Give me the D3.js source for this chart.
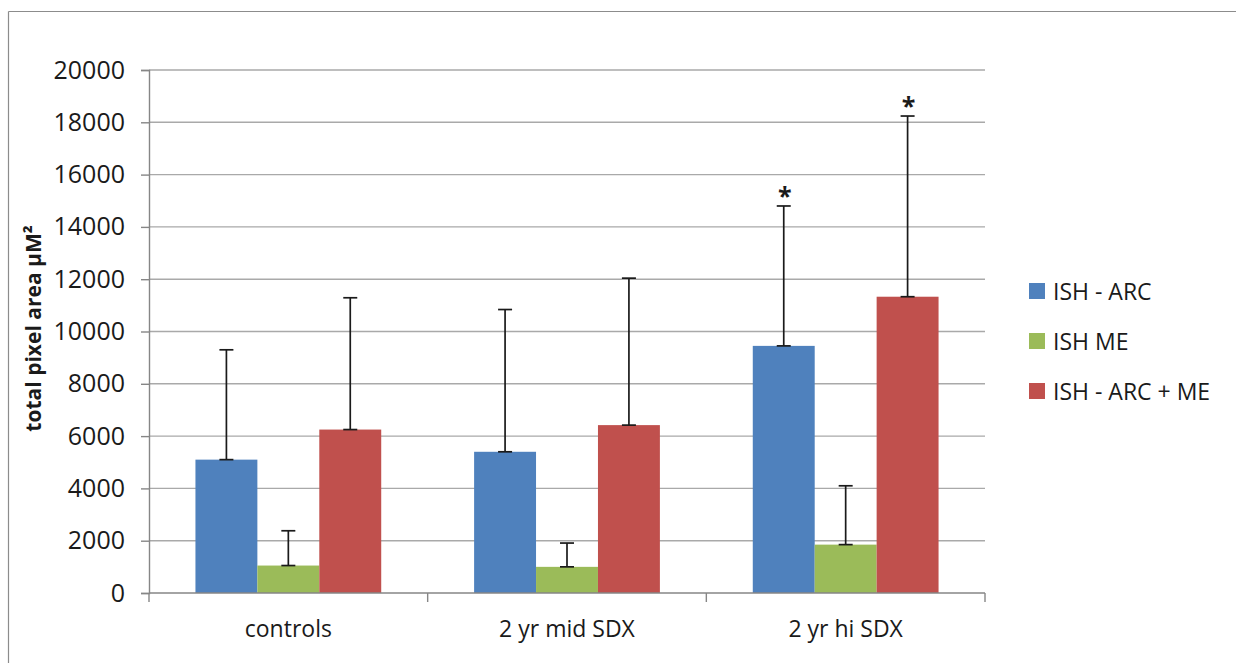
<!DOCTYPE html>
<html>
<head>
<meta charset="utf-8">
<script src="https://cdn.jsdelivr.net/npm/d3@7"></script>
<style>
  html, body { margin: 0; padding: 0; background: #fff; overflow: hidden; }
  svg { display: block; }
  text { font-family: "Open Sans", "Noto Sans", sans-serif; fill: #1a1a1a; }
</style>
</head>
<body>
<svg id="chart" width="1236" height="663"></svg>
<script>
// ---- data ----
const categories = ["controls", "2 yr mid SDX", "2 yr hi SDX"];
const seriesNames = ["ISH - ARC", "ISH ME", "ISH - ARC + ME"];
const seriesColors = ["#4F81BD", "#9BBB59", "#C0504D"];
const arcValues    = [5100, 5400, 9450];
const meValues     = [1050, 1000, 1850];
const arcMeValues  = [6250, 6420, 11330];
const arcErrTop    = [9300, 10840, 14800];
const meErrTop     = [2380, 1910, 4100];
const arcMeErrTop  = [11290, 12040, 18240];
const arcSignif    = [false, false, true];
const meSignif     = [false, false, false];
const arcMeSignif  = [false, false, true];
const yTicks = [0, 2000, 4000, 6000, 8000, 10000, 12000, 14000, 16000, 18000, 20000];
const yLabel = "total pixel area µM²";

const values = [arcValues, meValues, arcMeValues];
const errTops = [arcErrTop, meErrTop, arcMeErrTop];
const signif = [arcSignif, meSignif, arcMeSignif];

// ---- layout ----
const svg = d3.select("#chart");
const plot = { left: 149, right: 985, top: 70, bottom: 593 };

// outer frame (only top and left edges visible)
svg.append("line").attr("x1", 8.5).attr("x2", 1236).attr("y1", 11.5).attr("y2", 11.5)
  .attr("stroke", "#8c8c8c").attr("stroke-width", 1.2);
svg.append("line").attr("x1", 8.5).attr("x2", 8.5).attr("y1", 11.5).attr("y2", 663)
  .attr("stroke", "#8c8c8c").attr("stroke-width", 1.2);

const x0 = d3.scaleBand().domain(categories).range([plot.left, plot.right]).paddingInner(0).paddingOuter(0);
const groupInner = d3.scaleBand().domain(d3.range(seriesNames.length))
  .range([0, x0.bandwidth()]).paddingOuter(0.75).paddingInner(0);
const y = d3.scaleLinear().domain([0, 20000]).range([plot.bottom, plot.top]);

// gridlines
svg.append("g").selectAll("line").data(yTicks.filter(t => t > 0)).join("line")
  .attr("x1", plot.left).attr("x2", plot.right)
  .attr("y1", d => y(d)).attr("y2", d => y(d))
  .attr("stroke", "#a9a9a9").attr("stroke-width", 1.4);

// y axis
const yAxis = d3.axisLeft(y).tickValues(yTicks).tickSize(8).tickPadding(16).tickFormat(d3.format("d"));
const gy = svg.append("g").attr("transform", `translate(${plot.left},0)`).call(yAxis);
gy.select(".domain").attr("stroke", "#868686").attr("stroke-width", 1.4);
gy.selectAll(".tick line").attr("stroke", "#868686").attr("stroke-width", 1.4);
gy.selectAll(".tick text").attr("font-size", 25).attr("fill", "#1a1a1a")
  .style("font-family", "'Open Sans', sans-serif");

// bars
const groups = svg.append("g").selectAll("g").data(categories).join("g")
  .attr("transform", d => `translate(${x0(d)},0)`);

seriesNames.forEach((s, si) => {
  groups.append("rect")
    .attr("x", groupInner(si))
    .attr("width", groupInner.bandwidth())
    .attr("y", (d, ci) => y(values[si][ci]))
    .attr("height", (d, ci) => y(0) - y(values[si][ci]))
    .attr("fill", seriesColors[si]);
});

// error bars
seriesNames.forEach((s, si) => {
  const cx = (ci) => x0(categories[ci]) + groupInner(si) + groupInner.bandwidth() / 2;
  const eg = svg.append("g").attr("stroke", "#1a1a1a").attr("stroke-width", 1.7);
  categories.forEach((c, ci) => {
    const xc = cx(ci);
    const yb = y(values[si][ci]);
    const yt = y(errTops[si][ci]);
    eg.append("line").attr("x1", xc).attr("x2", xc).attr("y1", yb).attr("y2", yt);
    eg.append("line").attr("x1", xc - 7).attr("x2", xc + 7).attr("y1", yt).attr("y2", yt);
    eg.append("line").attr("x1", xc - 7).attr("x2", xc + 7).attr("y1", yb).attr("y2", yb);
    if (signif[si][ci]) {
      svg.append("text").attr("x", xc + 1).attr("y", yt - 1)
        .attr("text-anchor", "middle").attr("font-size", 25).attr("font-weight", "bold")
        .text("*");
    }
  });
});

// x axis
const gx = svg.append("g").attr("transform", `translate(0,${plot.bottom})`);
gx.append("line").attr("x1", plot.left).attr("x2", plot.right).attr("y1", 0).attr("y2", 0)
  .attr("stroke", "#868686").attr("stroke-width", 1.4);
const boundaries = categories.map(c => x0(c)).concat([x0(categories[categories.length - 1]) + x0.bandwidth()]);
gx.selectAll("line.tk").data(boundaries).join("line").attr("class", "tk")
  .attr("x1", d => d).attr("x2", d => d).attr("y1", 0).attr("y2", 9)
  .attr("stroke", "#868686").attr("stroke-width", 1.4);
gx.selectAll("text").data(categories).join("text")
  .attr("x", d => x0(d) + x0.bandwidth() / 2).attr("y", 44)
  .attr("text-anchor", "middle").attr("font-size", 23)
  .text(d => d);

// y label
svg.append("text")
  .attr("transform", `translate(41,${(plot.top + plot.bottom) / 2 - 3}) rotate(-90)`)
  .attr("text-anchor", "middle").attr("font-size", 21).attr("font-weight", "bold")
  .text(yLabel);

// legend
const legend = svg.append("g").attr("transform", "translate(1029,291)");
seriesNames.forEach((s, i) => {
  const g = legend.append("g").attr("transform", `translate(0,${i * 50})`);
  g.append("rect").attr("x", 0).attr("y", -8).attr("width", 16).attr("height", 16)
    .attr("fill", seriesColors[i]);
  g.append("text").attr("x", 24).attr("y", 8.5).attr("font-size", 23).text(s);
});
</script>
</body>
</html>
